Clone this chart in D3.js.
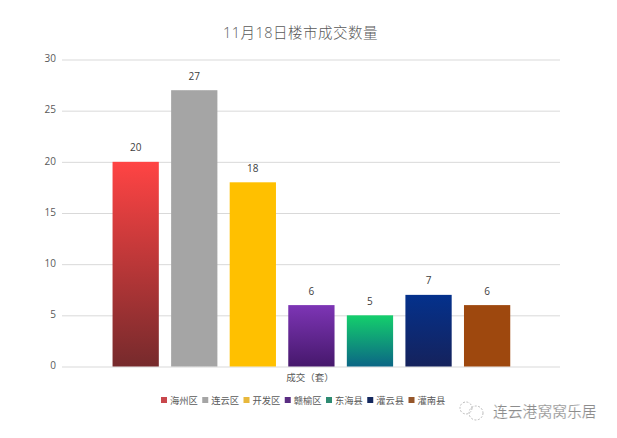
<!DOCTYPE html>
<html>
<head>
<meta charset="utf-8">
<script src="https://cdn.jsdelivr.net/npm/d3@7"></script>
<style>
  html, body { margin: 0; padding: 0; background: #fff; }
  svg { display: block; }
  text { font-family: "Open Sans", "Noto Sans CJK SC", sans-serif; }
</style>
</head>
<body>
<div id="chart"></div>
<script>
// chart data
const districts = ["海州区", "连云区", "开发区", "赣榆区", "东海县", "灌云县", "灌南县"];
const deals = [20, 27, 18, 6, 5, 7, 6];
const yTicks = [0, 5, 10, 15, 20, 25, 30];
const topColors = ["#ff4444", "#a5a5a5", "#ffc000", "#7d35b5", "#14cf6c", "#04318c", "#9e480e"];
const bottomColors = ["#762a2c", "#a5a5a5", "#ffc000", "#46186c", "#0b6685", "#15225c", "#9e480e"];
const swatchColors = ["#c8474c", "#a5a5a5", "#e8b83c", "#5a2d82", "#2e8b72", "#14285e", "#96562a"];
const chartTitle = "11月18日楼市成交数量";
const xTitle = "成交（套）";
const watermark = "连云港窝窝乐居";

const width = 617;
const height = 438;

const svg = d3.select("#chart").append("svg")
  .attr("width", width)
  .attr("height", height);

const y = d3.scaleLinear().domain([0, 30]).range([366.5, 59.5]);
const x = d3.scaleBand().domain(districts).range([106.4, 516.4]).paddingInner(0.21).paddingOuter(0.105);

// gradients, one per bar
const defs = svg.append("defs");
districts.forEach((d, i) => {
  const grad = defs.append("linearGradient")
    .attr("id", "bar" + i)
    .attr("x1", 0).attr("y1", 0).attr("x2", 0).attr("y2", 1);
  grad.append("stop").attr("offset", "0%").attr("stop-color", topColors[i]);
  grad.append("stop").attr("offset", "100%").attr("stop-color", bottomColors[i]);
});

// title
svg.append("text")
  .attr("x", 300.5)
  .attr("y", 38)
  .attr("text-anchor", "middle")
  .attr("font-size", 14.5)
  .attr("font-weight", 300)
  .attr("letter-spacing", 0.5)
  .attr("fill", "#595959")
  .text(chartTitle);

// y axis with gridlines
const yAxis = d3.axisLeft(y)
  .tickValues(yTicks)
  .tickSize(-498)
  .tickPadding(6);

const yG = svg.append("g")
  .attr("transform", "translate(62,0)")
  .call(yAxis);
yG.select(".domain").remove();
yG.selectAll("line").attr("stroke", "#d9d9d9").attr("stroke-width", 1);
yG.selectAll("text")
  .attr("font-family", "'Open Sans', sans-serif")
  .attr("font-size", 10)
  .attr("y", -1)
  .attr("fill", "#595959");

// bars
svg.append("g")
  .selectAll("rect")
  .data(deals)
  .join("rect")
  .attr("x", (d, i) => x(districts[i]))
  .attr("y", (d) => y(d))
  .attr("width", x.bandwidth())
  .attr("height", (d) => y(0) - y(d))
  .attr("fill", (d, i) => `url(#bar${i})`);

// value labels
svg.append("g")
  .selectAll("text")
  .data(deals)
  .join("text")
  .attr("x", (d, i) => x(districts[i]) + x.bandwidth() / 2)
  .attr("y", (d) => y(d) - 10.5)
  .attr("text-anchor", "middle")
  .attr("font-size", 10)
  .attr("fill", "#404040")
  .text((d) => d);

// x axis title
svg.append("text")
  .attr("x", 310)
  .attr("y", 381)
  .attr("text-anchor", "middle")
  .attr("font-size", 9.5)
  .attr("fill", "#595959")
  .text(xTitle);

// legend
const legendX = d3.scalePoint().domain(districts).range([161, 408.5]);
const legend = svg.append("g")
  .selectAll("g")
  .data(districts)
  .join("g")
  .attr("transform", (d) => `translate(${legendX(d)},400)`);
legend.append("rect")
  .attr("y", -3)
  .attr("width", 6)
  .attr("height", 6)
  .attr("fill", (d, i) => swatchColors[i]);
legend.append("text")
  .attr("x", 9)
  .attr("y", 3.5)
  .attr("font-size", 9.3)
  .attr("fill", "#595959")
  .text((d) => d);

// watermark, icon then name
const mark = svg.append("g")
  .attr("fill", "none")
  .attr("stroke", "#bdbdbd")
  .attr("stroke-width", 1)
  .attr("stroke-dasharray", "2 1.5");
mark.append("circle").attr("cx", 466).attr("cy", 408).attr("r", 6);
mark.append("circle").attr("cx", 476).attr("cy", 413).attr("r", 7);

svg.append("text")
  .attr("x", 493)
  .attr("y", 417)
  .attr("font-size", 14.8)
  .attr("fill", "#8c8c8c")
  .attr("stroke", "#fff")
  .attr("stroke-width", 0.2)
  .text(watermark);
</script>
</body>
</html>
